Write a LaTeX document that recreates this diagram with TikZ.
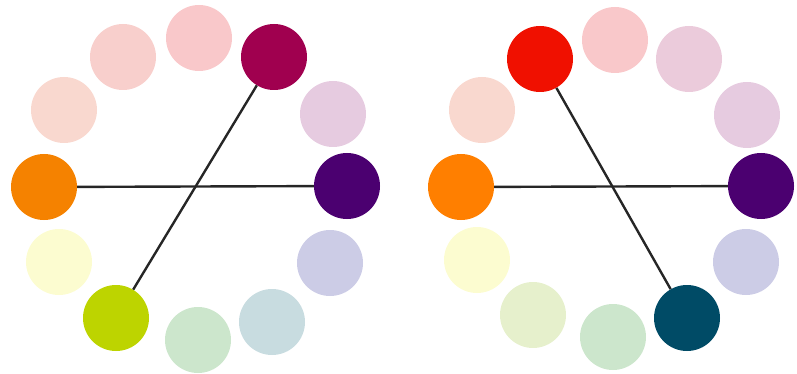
\documentclass[tikz,border=0pt]{standalone}
\usetikzlibrary{positioning,calc}

\definecolor{cOrange}{HTML}{F58200}
\definecolor{cOrangeB}{HTML}{FF7F00}
\definecolor{cPurple}{HTML}{4B0070}
\definecolor{cMagenta}{HTML}{A0004F}
\definecolor{cRed}{HTML}{F01000}
\definecolor{cTeal}{HTML}{004B66}
\definecolor{cLime}{HTML}{BDD400}
\definecolor{cPinkA}{HTML}{F9C8CA}
\definecolor{cPinkB}{HTML}{F8CFCC}
\definecolor{cPeach}{HTML}{F9D8CF}
\definecolor{cMauve}{HTML}{EBCBDB}
\definecolor{cLilac}{HTML}{E6CBE0}
\definecolor{cLavender}{HTML}{CCCCE6}
\definecolor{cBlueGray}{HTML}{C8DCE0}
\definecolor{cMint}{HTML}{CCE6CC}
\definecolor{cCream}{HTML}{FCFCD0}
\definecolor{cPaleLime}{HTML}{E6F0CC}

\begin{document}
\begin{tikzpicture}[x=1pt,y=-1pt]
\tikzset{
  dot/.style={circle, draw=none, minimum size=66pt, inner sep=0pt},
  link/.style={draw=black!85, line width=2.4pt}
}
\useasboundingbox (0,0) rectangle (797,374);
% left wheel
\foreach \n/\x/\y/\c in {
  lOrange/44/187/cOrange, lPeach/64/110/cPeach, lPink/123/57/cPinkB,
  lTop/199/38/cPinkA, lMagenta/274/57/cMagenta, lLilac/333/114/cLilac,
  lPurple/347/186/cPurple, lLavender/330/263/cLavender, lBlue/272/322/cBlueGray,
  lMint/198/340/cMint, lLime/116/318/cLime, lCream/59/262/cCream}
  \node[dot, fill=\c] (\n) at (\x,\y) {};
\draw[link] (lOrange) -- (lPurple);
\draw[link] (lMagenta) -- (lLime);
% right wheel
\foreach \n/\x/\y/\c in {
  rOrange/461/187/cOrangeB, rPeach/482/110/cPeach, rRed/540/59/cRed,
  rTop/615/40/cPinkA, rMauve/689/59/cMauve, rLilac/747/115/cLilac,
  rPurple/761/186/cPurple, rLavender/746/262/cLavender, rTeal/687/318/cTeal,
  rMint/613/337/cMint, rPaleLime/533/315/cPaleLime, rCream/477/260/cCream}
  \node[dot, fill=\c] (\n) at (\x,\y) {};
\draw[link] (rOrange) -- (rPurple);
\draw[link] (rRed) -- (rTeal);
\end{tikzpicture}
\end{document}
